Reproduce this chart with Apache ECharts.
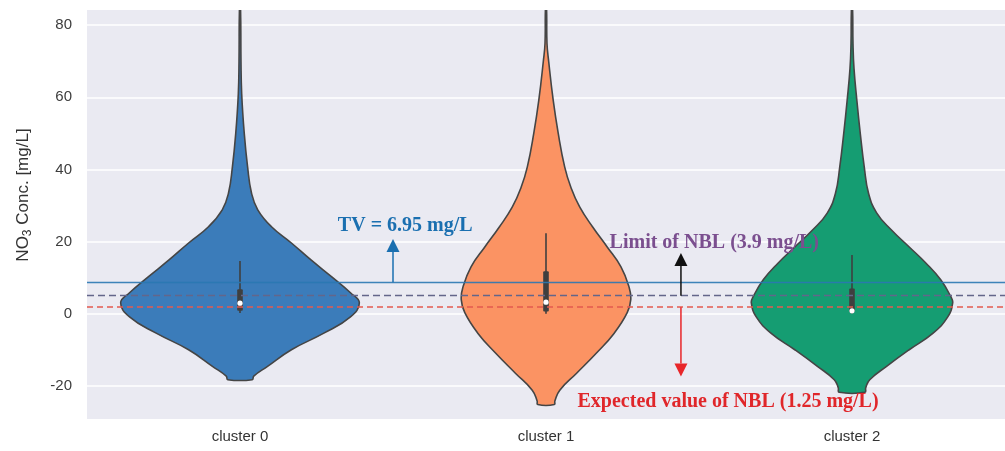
<!DOCTYPE html>
<html lang="en">
<head>
<meta charset="utf-8" />
<title>NO3 violin plot</title>
<script src="https://cdn.jsdelivr.net/npm/echarts@6.0.0/dist/echarts.min.js"></script>
<style>
  html, body { margin: 0; padding: 0; background: #fff; }
  #main { width: 1005px; height: 451px; }
</style>
</head>
<body>
<div id="main"></div>
<script>
var categories = ['cluster 0', 'cluster 1', 'cluster 2'];
var violinColors = ['#3b7cba', '#fb9363', '#159d72'];
var yTicks = [-20, 0, 20, 40, 60, 80];

// violin outline: [NO3 value, half width as fraction of one category band], top to bottom
var profile0 = [[85, 0.0016], [70, 0.0032], [61, 0.0055], [50, 0.0139], [40.7, 0.0248], [33.4, 0.0377],
  [28.8, 0.058], [24.1, 0.103], [19.6, 0.168], [14.9, 0.232], [10.2, 0.300], [5.8, 0.361], [3.0, 0.390],
  [-0.9, 0.361], [-5.4, 0.274], [-10, 0.168], [-14.6, 0.090], [-17.3, 0.045], [-18.3, 0.040]];
var profile1 = [[85, 0.0016], [75, 0.0032], [70, 0.0087], [59.2, 0.0235], [50, 0.040], [40.7, 0.061],
  [35.1, 0.081], [29.6, 0.110], [24.1, 0.152], [18.5, 0.200], [13, 0.245], [7.5, 0.271], [3.9, 0.277],
  [0.2, 0.265], [-5.4, 0.223], [-10.9, 0.165], [-16.5, 0.100], [-21.2, 0.045], [-24.2, 0.029], [-25.2, 0.027]];
var profile2 = [[85, 0.0016], [75, 0.0032], [68, 0.0065], [59, 0.016], [50, 0.027], [40.7, 0.040],
  [33.4, 0.054], [27.9, 0.081], [23.2, 0.129], [18.5, 0.187], [14, 0.242], [9.4, 0.290], [4.7, 0.323],
  [3.0, 0.329], [-0.9, 0.313], [-5.4, 0.265], [-10, 0.187], [-14.6, 0.113], [-18.3, 0.058], [-20.5, 0.045], [-21.8, 0.042]];
var profiles = [profile0, profile1, profile2];

// inner box: [low whisker, q1, median, q3, high whisker]
var boxStats = [
  [0.2, 0.8, 2.9, 6.8, 14.6],
  [0.0, 0.6, 3.2, 11.8, 22.3],
  [0.0, 0.4, 0.8, 7.0, 16.3]
];

// horizontal reference lines (as drawn)
var refValues = [8.7, 5.0, 1.8];
var refColors = ['#2a78b2', '#63668a', '#e3594f'];

// arrows: [category, from value, to value]
var arrowData = [[0, 8.7, 20.7], [1, 5.0, 16.8], [1, 1.8, -17.4]];
var arrowColors = ['#1a6fb0', '#111111', '#e8262a'];
var arrowOffsets = [0.5, 0.441, 0.441];

// annotation texts: [category, value]
var noteTexts = ['TV = 6.95 mg/L', 'Limit of NBL (3.9 mg/L)', 'Expected value of NBL (1.25 mg/L)'];
var noteData = [[0, 24.3], [1, 19.6], [1, -24.4]];
var noteColors = ['#1a6fb0', '#7b4f8f', '#e0262a'];
var noteOffsets = [0.54, 0.55, 0.595];

var myChart = echarts.init(document.getElementById('main'));

function renderViolin(params, api) {
  var i = api.value(0);
  var prof = profiles[i];
  var band = api.size([1, 0])[0];
  var cx = api.coord([i, 0])[0];
  var pts = [];
  prof.forEach(function (p) {
    pts.push([cx + p[1] * band, api.coord([i, p[0]])[1]]);
  });
  prof.slice().reverse().forEach(function (p) {
    pts.push([cx - p[1] * band, api.coord([i, p[0]])[1]]);
  });
  return {
    type: 'polygon',
    shape: { points: pts, smooth: 0.45 },
    style: { fill: violinColors[i], stroke: '#454545', lineWidth: 1.6 }
  };
}

function renderBox(params, api) {
  var c = api.value(0);
  var x = api.coord([c, 0])[0];
  var y = function (d) { return api.coord([c, api.value(d)])[1]; };
  return {
    type: 'group',
    children: [
      { type: 'line', shape: { x1: x, y1: y(1), x2: x, y2: y(5) }, style: { stroke: '#3f3f3f', lineWidth: 1.6 } },
      { type: 'rect', shape: { x: x - 2.8, y: y(4), width: 5.6, height: y(2) - y(4), r: 1 }, style: { fill: '#3f3f3f' } },
      { type: 'circle', shape: { cx: x, cy: y(3), r: 2.6 }, style: { fill: '#ffffff' } }
    ]
  };
}

function renderArrow(params, api) {
  var i = params.dataIndex;
  var c = api.value(0);
  var band = api.size([1, 0])[0];
  var x = api.coord([c, 0])[0] + arrowOffsets[i] * band;
  var y1 = api.coord([c, api.value(1)])[1];
  var y2 = api.coord([c, api.value(2)])[1];
  var dir = y2 > y1 ? 1 : -1;
  var head = 13;
  return {
    type: 'group',
    children: [
      { type: 'line', shape: { x1: x, y1: y1, x2: x, y2: y2 - dir * head }, style: { stroke: arrowColors[i], lineWidth: 1.5 } },
      { type: 'polygon', shape: { points: [[x, y2], [x - 6.5, y2 - dir * head], [x + 6.5, y2 - dir * head]] }, style: { fill: arrowColors[i] } }
    ]
  };
}

function renderNote(params, api) {
  var i = params.dataIndex;
  var c = api.value(0);
  var band = api.size([1, 0])[0];
  return {
    type: 'text',
    x: api.coord([c, 0])[0] + noteOffsets[i] * band,
    y: api.coord([c, api.value(1)])[1],
    style: {
      text: noteTexts[i],
      fill: noteColors[i],
      font: 'bold 20px "Liberation Serif", "Times New Roman", serif',
      align: 'center',
      verticalAlign: 'middle'
    }
  };
}

var option = {
  animation: false,
  grid: { left: 87, right: -11, top: 10, bottom: 32, show: true, backgroundColor: '#eaeaf2', borderWidth: 0 },
  xAxis: {
    type: 'category',
    data: categories,
    axisLine: { show: false },
    axisTick: { show: false },
    splitLine: { show: false },
    axisLabel: { color: '#333', fontSize: 15, margin: 10, fontFamily: 'Liberation Sans, Arial, sans-serif' }
  },
  yAxis: {
    type: 'value',
    min: -29.2,
    max: 84.2,
    name: '{a|NO}{sub|3}{a| Conc. [mg/L]}',
    nameLocation: 'middle',
    nameGap: 53,
    nameTextStyle: {
      color: '#333',
      padding: [0, 0, 0, 39],
      rich: {
        a: { fontSize: 17, lineHeight: 22, color: '#333', fontFamily: 'Liberation Sans, Arial, sans-serif' },
        sub: { fontSize: 12, lineHeight: 12, verticalAlign: 'bottom', color: '#333', fontFamily: 'Liberation Sans, Arial, sans-serif' }
      }
    },
    axisLine: { show: false },
    axisTick: { show: false, customValues: yTicks },
    axisLabel: { customValues: yTicks, color: '#3d3d3d', fontSize: 15, margin: 15, fontFamily: 'Liberation Sans, Arial, sans-serif' },
    splitLine: { show: true, lineStyle: { color: '#ffffff', width: 1.6 } }
  },
  series: [
    {
      type: 'custom',
      name: 'violin',
      clip: true,
      z: 2,
      renderItem: renderViolin,
      data: categories.map(function (c, i) { return [i, boxStats[i][2]]; }),
      markLine: {
        silent: true,
        symbol: 'none',
        label: { show: false },
        data: [
          { yAxis: refValues[0], lineStyle: { color: refColors[0], width: 1.4, type: 'solid', opacity: 0.9 } },
          { yAxis: refValues[1], lineStyle: { color: refColors[1], width: 1.3, type: [7, 4] } },
          { yAxis: refValues[2], lineStyle: { color: refColors[2], width: 1.6, type: [6, 4] } }
        ]
      }
    },
    {
      type: 'custom',
      name: 'box',
      z: 4,
      renderItem: renderBox,
      data: boxStats.map(function (b, i) { return [i].concat(b); })
    },
    {
      type: 'custom',
      name: 'arrows',
      z: 5,
      renderItem: renderArrow,
      data: arrowData
    },
    {
      type: 'custom',
      name: 'notes',
      z: 6,
      renderItem: renderNote,
      data: noteData
    }
  ]
};

myChart.setOption(option);
</script>
</body>
</html>
